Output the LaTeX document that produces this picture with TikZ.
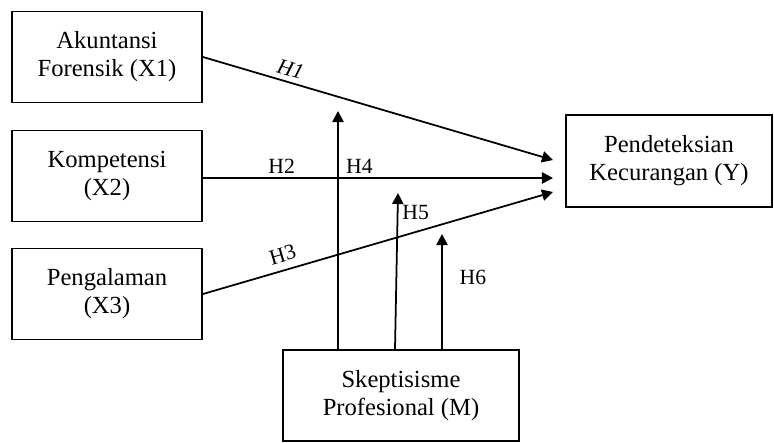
\documentclass[tikz,border=0pt]{standalone}
\usepackage{fontspec}
\setmainfont{Liberation Serif}
\usepackage{tikz}
\usetikzlibrary{arrows.meta,positioning,calc}

\begin{document}
\begin{tikzpicture}[x=0.03cm,y=-0.03cm,
    varbox/.style={draw,line width=1.6pt,align=center,inner sep=0pt,
                   font=\fontsize{21}{24}\selectfont},
    arr/.style={line width=1.5pt,-{Triangle[length=9.4pt,width=9.6pt]}},
    hlbl/.style={font=\fontsize{18.5}{21}\selectfont}]
  \useasboundingbox (0,0) rectangle (774,443);
  % variabel
  \node[varbox,minimum width=5.7cm,minimum height=2.73cm] (ak) at (107,57)
    {Akuntansi\\Forensik (X1)};
  \node[varbox,minimum width=5.7cm,minimum height=2.73cm] (komp) at (107,176)
    {Kompetensi\\(X2)};
  \node[varbox,minimum width=5.7cm,minimum height=2.73cm] (peng) at (107,294)
    {Pengalaman\\(X3)};
  \node[varbox,minimum width=6.18cm,minimum height=2.76cm] (det) at (669,161)
    {Pendeteksian\\Kecurangan (Y)};
  \node[varbox,minimum width=7.08cm,minimum height=2.73cm] (skep) at (401,395.5)
    {Skeptisisme\\Profesional (M)};
  % ujung panah
  \coordinate (t1) at (553,160);
  \coordinate (t2) at (553,178);
  \coordinate (t3) at (553,192);
  \coordinate (m1) at (338,111);
  \coordinate (m2) at (398,193);
  \coordinate (m3) at (442,234);
  % hipotesis
  \draw[arr] (ak.east) -- node[hlbl,sloped,above=1pt,pos=0.24] (h1) {\itshape H1} (t1);
  \draw[arr] (komp.east |- t2) -- node[hlbl,above,pos=0.225] (h2) {H2}
    node[hlbl,above,pos=0.447] (h4) {H4} (t2);
  \draw[arr] (peng.east) -- node[hlbl,sloped,above=3pt,pos=0.24] (h3) {H3} (t3);
  \draw[arr] (m1 |- skep.north) -- (m1);
  \draw[arr] ($(m2 |- skep.north)+(-3,0)$) -- node[hlbl,right,pos=0.873] (h5) {H5} (m2);
  \draw[arr] (m3 |- skep.north) -- node[hlbl,right=11pt,pos=0.62] (h6) {H6} (m3);
\end{tikzpicture}
\end{document}
